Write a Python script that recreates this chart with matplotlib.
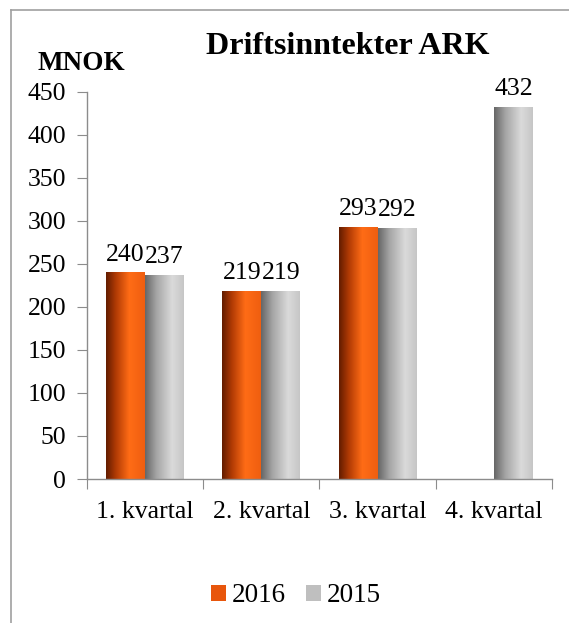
import numpy as np
import matplotlib
matplotlib.use('Agg')
import matplotlib.pyplot as plt
from matplotlib import font_manager
from matplotlib.colors import LinearSegmentedColormap
from matplotlib.lines import Line2D

categories = ['1. kvartal', '2. kvartal', '3. kvartal', '4. kvartal']
values_2016 = [240, 219, 293, np.nan]
values_2015 = [237, 219, 292, 432]
series_labels = ['2016', '2015']
y_ticks = [0, 50, 100, 150, 200, 250, 300, 350, 400, 450]

# pick a Times-like serif that is actually installed
installed = {f.name for f in font_manager.fontManager.ttflist}
serif = [n for n in ['Liberation Serif', 'Times New Roman', 'Nimbus Roman',
                     'TeX Gyre Termes', 'Noto Serif', 'DejaVu Serif'] if n in installed]
plt.rcParams['font.family'] = serif[:1] + ['DejaVu Sans']

orange_cmap = LinearSegmentedColormap.from_list(
    'orange', [(0.0, '#621c00'), (0.25, '#b03a04'), (0.6, '#ff6c16'), (1.0, '#ef5e10')])
gray_cmap = LinearSegmentedColormap.from_list(
    'gray', [(0.0, '#666666'), (0.3, '#a6a6a6'), (0.7, '#dadada'), (1.0, '#c6c6c6')])

fig = plt.figure(figsize=(5.69, 6.23), dpi=100)
ax = fig.add_axes([0.1529, 0.2311, 0.9701 - 0.1529, 0.8528 - 0.2311])

x = np.arange(len(categories))
w = 0.335
bars16 = ax.bar(x - w / 2, values_2016, w, color='#e8560c', label=series_labels[0])
bars15 = ax.bar(x + w / 2, values_2015, w, color='#bfbfbf', label=series_labels[1])

# horizontal shading inside each bar
grad = np.linspace(0, 1, 256).reshape(1, -1)
for bars, cmap in ((bars16, orange_cmap), (bars15, gray_cmap)):
    for p in bars:
        h = p.get_height()
        if not np.isfinite(h) or h == 0:
            continue
        x0 = p.get_x()
        im = ax.imshow(grad, cmap=cmap, extent=[x0, x0 + p.get_width(), 0, h],
                       aspect='auto', zorder=p.get_zorder() + 0.1, interpolation='bilinear')
        im.set_clip_path(p)

for bars, vals in ((bars16, values_2016), (bars15, values_2015)):
    for p, v in zip(bars, vals):
        if not np.isfinite(v):
            continue
        ax.annotate(f'{v:.0f}', (p.get_x() + p.get_width() / 2, v),
                    xytext=(0, 5), textcoords='offset points',
                    ha='center', va='bottom', fontsize=18.5)

ax.set_xlim(-0.5, len(categories) - 0.5)
ax.set_ylim(0, 450)
ax.set_yticks(y_ticks)
ax.tick_params(axis='y', labelsize=18.5, length=7, color='#8c8c8c', pad=8)
ax.set_xticks(np.arange(len(categories) + 1) - 0.5)
ax.set_xticklabels([])
ax.set_xticks(x, minor=True)
ax.set_xticklabels(categories, minor=True, fontsize=18.5)
ax.tick_params(axis='x', which='major', length=7, color='#8c8c8c')
ax.tick_params(axis='x', which='minor', length=0, pad=16)

for s in ('top', 'right'):
    ax.spines[s].set_visible(False)
for s in ('left', 'bottom'):
    ax.spines[s].set_color('#8c8c8c')
    ax.spines[s].set_linewidth(1.0)

fig.text(348 / 569, 1 - 46 / 623, 'Driftsinntekter ARK', fontsize=23,
         fontweight='bold', ha='center', va='center')
fig.text(81 / 569, 1 - 64 / 623, 'MNOK', fontsize=19.5, fontweight='bold',
         ha='center', va='center')

fig.legend(handles=[bars16, bars15], labels=series_labels, loc='center',
           bbox_to_anchor=(296 / 569, 1 - 596 / 623), ncol=2, frameon=False,
           fontsize=19.5, handlelength=0.55, handleheight=0.55,
           handletextpad=0.2, columnspacing=0.75)

# outer border (top and left)
fig.add_artist(Line2D([11 / 569, 1], [1 - 10 / 623, 1 - 10 / 623],
                      transform=fig.transFigure, color='#a0a0a0', lw=1.2))
fig.add_artist(Line2D([11 / 569, 11 / 569], [0, 1 - 10 / 623],
                      transform=fig.transFigure, color='#a0a0a0', lw=1.2))

fig.savefig('out.png', dpi=100)
